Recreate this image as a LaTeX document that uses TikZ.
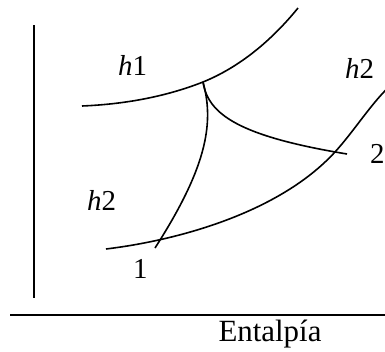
\documentclass[tikz,border=0pt]{standalone}
\usepackage{fontspec}
\setmainfont{Liberation Serif}
\usepackage{tikz}
\usetikzlibrary{positioning}

\begin{document}
\begin{tikzpicture}[
    x=1bp, y=-1bp,
    curve/.style={line width=1.6bp},
    axis/.style={line width=1.6bp},
    label/.style={inner sep=0pt, anchor=base west, font=\fontsize{29}{33}\selectfont}
]

\useasboundingbox (0,0) rectangle (385,352);
\clip (0,0) rectangle (385,352);

% axes
\coordinate (ytop) at (34,25);
\coordinate (ybot) at (34,298);
\coordinate (xl) at (10,315);
\coordinate (xr) at (386,315);
\draw[axis] (ytop) -- (ybot);
\draw[axis] (xl) -- (xr);

% isenthalps
\coordinate (a1) at (82,106);
\coordinate (p) at (203,82);
\coordinate (a2) at (298,8);
\coordinate (b1) at (106,249);
\coordinate (q) at (335,152);
\coordinate (b2) at (392,84);
\draw[curve] (a1) .. controls (130,104) and (170,95) .. (p)
             .. controls (240,67) and (272,40) .. (a2);
\draw[curve] (b1) .. controls (180,240) and (280,212) .. (q)
             .. controls (355,130) and (372,102) .. (b2);

% process curves
\coordinate (e1) at (155,248);
\coordinate (e2) at (347,154);
\draw[curve] (p) .. controls (215,125) and (205,170) .. (e1);
\draw[curve] (p) .. controls (208,114) and (238,136) .. (e2);

% labels
\node[label] (h1) at (118,75) {\textit{h}1};
\node[label] (h2l) at (87,210) {\textit{h}2};
\node[label] (h2r) at (345,78) {\textit{h}2};
\node[label] (n2) at (370,163) {2};
\node[label] (n1) at (133,278) {1};
\node[label, anchor=base, font=\fontsize{31}{35}\selectfont] (ent) at (270,341) {Entalpía};

\end{tikzpicture}
\end{document}
